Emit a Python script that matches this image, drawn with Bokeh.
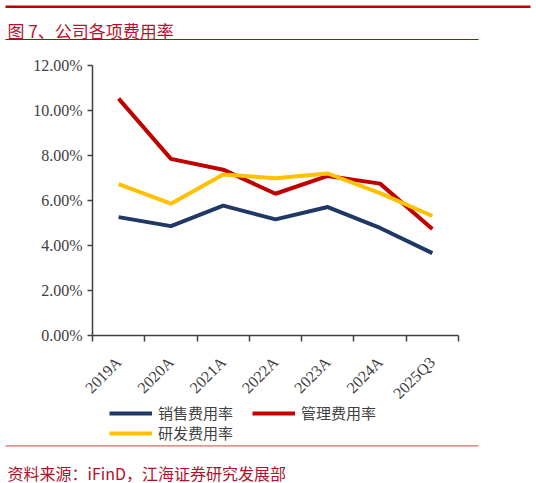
import math
from bokeh.plotting import figure
from bokeh.models import (Range1d, FixedTicker, PrintfTickFormatter, Legend,
                          LegendItem, ColumnDataSource)
from bokeh.layouts import column
from bokeh.embed import file_html
from bokeh.resources import INLINE
from bokeh.core.properties import value

# ---- data ----
categories = ["2019A", "2020A", "2021A", "2022A", "2023A", "2024A", "2025Q3"]
sales_rate = [5.26, 4.86, 5.77, 5.16, 5.71, 4.78, 3.66]     # 销售费用率 (%)
admin_rate = [10.53, 7.85, 7.37, 6.30, 7.09, 6.75, 4.73]    # 管理费用率 (%)
rnd_rate = [6.73, 5.86, 7.16, 6.99, 7.20, 6.33, 5.31]       # 研发费用率 (%)
y_ticks = [0, 2, 4, 6, 8, 10, 12]
series_names = ["销售费用率", "管理费用率", "研发费用率"]
series_colors = ["#1F3864", "#C00000", "#FFC000"]
title_text = "图 7、公司各项费用率"
source_text = "资料来源：iFinD，江海证券研究发展部"

W = 536
AXIS = "#404040"
SERIF = "Liberation Serif"
CJK = "Noto Sans CJK SC"
RED = "#C00000"
NAN = float("nan")


def blank(height, **kw):
    fig = figure(width=W, height=height, x_range=Range1d(0, W),
                 y_range=Range1d(height, 0), output_backend="svg",
                 toolbar_location=None, min_border=0, frame_align=False, **kw)
    fig.axis.visible = False
    fig.grid.visible = False
    fig.outline_line_color = None
    return fig


# ---- header ----
HH = 44
h = blank(HH)
h.segment(x0=[5], y0=[6.3], x1=[530], y1=[6.3], line_color=RED, line_width=2.5)
h.segment(x0=[5], y0=[39], x1=[478], y1=[39], line_color=RED, line_width=1)
h.text(x=[7], y=[30], text=[title_text], text_font=value(CJK),
       text_font_size="17px", text_color="#B8122E", text_baseline="alphabetic")

# ---- main chart ----
xs = [i + 0.5 for i in range(len(categories))]
src = ColumnDataSource(dict(x=xs, sales=sales_rate, admin=admin_rate, rnd=rnd_rate))

p = figure(width=W, height=366, x_range=Range1d(0, len(categories)),
           y_range=Range1d(y_ticks[0], y_ticks[-1]),
           output_backend="svg", toolbar_location=None,
           min_border_left=92, min_border_right=78, min_border_top=21,
           min_border_bottom=75, frame_align=False)
p.outline_line_color = None
p.grid.visible = False

p.line("x", "sales", source=src, line_color=series_colors[0], line_width=4)
p.line("x", "admin", source=src, line_color=series_colors[1], line_width=4)
p.line("x", "rnd", source=src, line_color=series_colors[2], line_width=4)

xa = p.xaxis[0]
xa.ticker = FixedTicker(ticks=xs, minor_ticks=list(range(len(categories) + 1)))
xa.major_label_overrides = {x: c for x, c in zip(xs, categories)}
xa.major_label_orientation = math.pi / 4
xa.major_tick_out = 0
xa.major_tick_in = 0
xa.minor_tick_out = 6
xa.minor_tick_in = 0
xa.minor_tick_line_color = AXIS
xa.minor_tick_line_width = 1.5
xa.axis_line_color = AXIS
xa.axis_line_width = 1.5
xa.major_label_text_font = SERIF
xa.major_label_text_font_size = "16px"
xa.major_label_text_color = AXIS
xa.major_label_standoff = 18

ya = p.yaxis[0]
ya.ticker = FixedTicker(ticks=y_ticks)
ya.formatter = PrintfTickFormatter(format="%.2f%%")
ya.major_tick_out = 5
ya.major_tick_in = 0
ya.minor_tick_line_color = None
ya.major_tick_line_color = AXIS
ya.major_tick_line_width = 1.5
ya.axis_line_color = AXIS
ya.axis_line_width = 1.5
ya.major_label_text_font = SERIF
ya.major_label_text_font_size = "16px"
ya.major_label_text_color = AXIS
ya.major_label_standoff = 5

# ---- legend strip (slightly overlapping the empty bottom of the chart) ----
LH = 43
lf = blank(LH, margin=(-10, 0, 0, 0))
lf.background_fill_alpha = 0
lf.border_fill_alpha = 0
key_lines = [lf.line(x=[NAN], y=[NAN], line_color=c, line_width=4)
             for c in series_colors]
leg_style = dict(orientation="horizontal", glyph_width=43, label_standoff=6,
                 spacing=19, padding=0, margin=0, border_line_color=None,
                 background_fill_alpha=0, label_text_font=CJK,
                 label_text_font_size="15px", label_text_color=AXIS)
legend_a = Legend(items=[LegendItem(label=value(series_names[0]), renderers=[key_lines[0]]),
                         LegendItem(label=value(series_names[1]), renderers=[key_lines[1]])],
                  location=(109, 20), **leg_style)
legend_b = Legend(items=[LegendItem(label=value(series_names[2]), renderers=[key_lines[2]])],
                  location=(109, 0), **leg_style)
lf.add_layout(legend_a)
lf.add_layout(legend_b)

# ---- footer ----
FH = 39
f = blank(FH)
f.segment(x0=[5], y0=[2.3], x1=[478], y1=[2.3], line_color="#E06666", line_width=1.2)
f.text(x=[7], y=[29], text=[source_text], text_font=value(CJK),
       text_font_size="16px", text_color="#B0102A", text_baseline="alphabetic")

layout = column(h, p, lf, f, spacing=0)

open("out.html", "w").write(file_html(layout, INLINE))
